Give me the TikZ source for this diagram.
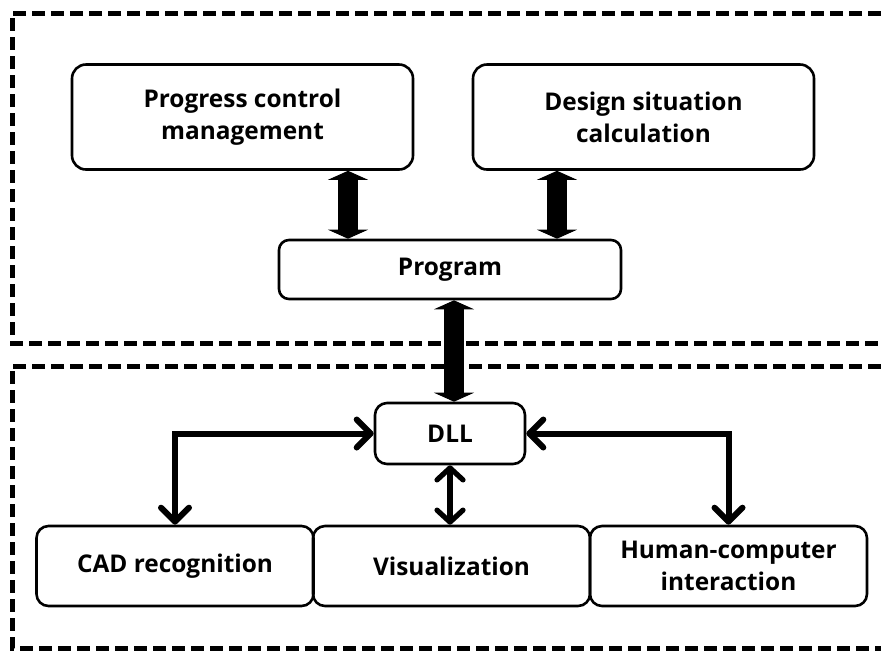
\documentclass[tikz,border=0pt]{standalone}
\usepackage{fontspec}
\setmainfont{Open Sans}
\usetikzlibrary{arrows.meta}

\begin{document}
\begin{tikzpicture}[x=0.5pt,y=-0.5pt,
	module/.style={draw,line width=1.3pt,rounded corners=7pt,align=center,
		inner sep=0pt,font=\fontsize{12.2}{16}\selectfont\bfseries},
	bigbox/.style={module,minimum width=170.5pt,minimum height=52.5pt},
	smallbox/.style={module,minimum width=138.5pt,minimum height=40pt,rounded corners=6pt},
	zone/.style={line width=2.5pt,dash pattern=on 6.5pt off 3pt},
	fat/.style={line width=10pt,>={Triangle[length=4.5pt,width=20pt,line width=0.5pt]},<->},
	link/.style={line width=3pt,>={Straight Barb[length=7pt,width=14pt,round]},<->},
	thinlink/.style={line width=2.6pt,>={Straight Barb[length=6pt,width=13pt,round]},<->}]
	%\draw[help lines] (0,0) grid (881,650);
	\useasboundingbox (0,0) rectangle (881,650);
	
	\draw[zone] (900,13) -- (12,13) -- (12,343) -- (900,343);
	\draw[zone] (900,366) -- (12,366) -- (12,648) -- (900,648);
	
	\node[bigbox] (progress) at (242.5,117) {Progress control\\management};
	\node[bigbox] (design) at (643.5,117) {Design situation\\calculation};
	\node[module,minimum width=171pt,minimum height=29.5pt,rounded corners=5pt] (program) at (450,269.5) {Program};
	
	\node[module,minimum width=75pt,minimum height=30.5pt,rounded corners=6pt] (dll) at (450,433.5) {DLL};
	\node[smallbox] (cad) at (175,566) {CAD recognition};
	\node[smallbox] (vis) at (451.5,566) {Visualization};
	\node[smallbox] (hci) at (728.5,566) {Human-computer\\interaction};
	
	\coordinate (c1) at (348,0);
	\coordinate (c2) at (557,0);
	\coordinate (c3) at (454,0);
	
	\draw[fat] (progress.south -| c1) -- (program.north -| c1);
	\draw[fat] (design.south -| c2) -- (program.north -| c2);
	\draw[fat] (program.south -| c3) -- (dll.north -| c3);
	
	\draw[link] (dll.west) -| (cad.north);
	\draw[link] (dll.east) -| (hci.north);
	\draw[thinlink] (dll.south) -- (dll.south |- vis.north);
\end{tikzpicture}
\end{document}
